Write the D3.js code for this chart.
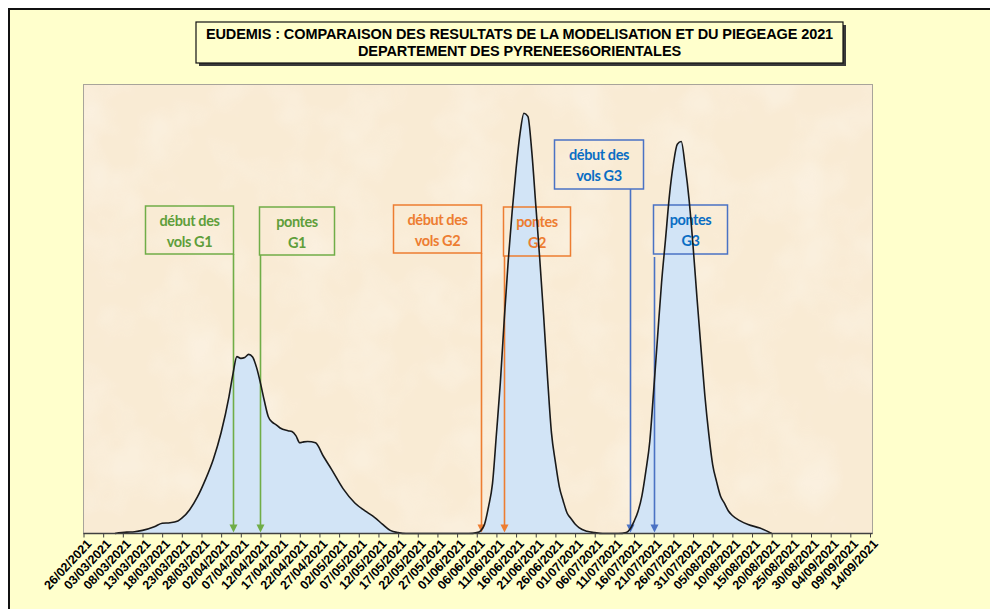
<!DOCTYPE html>
<html>
<head>
<meta charset="utf-8">
<script src="https://cdn.jsdelivr.net/npm/d3@7"></script>
<style>
  html, body { margin: 0; padding: 0; background: #ffffff; }
  svg { display: block; }
</style>
</head>
<body>
<svg id="chart" width="990" height="609"></svg>
<script>
// Title lines
const titleLines = [
  "EUDEMIS : COMPARAISON DES RESULTATS DE LA MODELISATION ET DU PIEGEAGE 2021",
  "DEPARTEMENT DES PYRENEES6ORIENTALES"
];

// Axis tick labels (every 5 days)
const tickLabels = [
  "26/02/2021","03/03/2021","08/03/2021","13/03/2021","18/03/2021","23/03/2021",
  "28/03/2021","02/04/2021","07/04/2021","12/04/2021","17/04/2021","22/04/2021",
  "27/04/2021","02/05/2021","07/05/2021","12/05/2021","17/05/2021","22/05/2021",
  "27/05/2021","01/06/2021","06/06/2021","11/06/2021","16/06/2021","21/06/2021",
  "26/06/2021","01/07/2021","06/07/2021","11/07/2021","16/07/2021","21/07/2021",
  "26/07/2021","31/07/2021","05/08/2021","10/08/2021","15/08/2021","20/08/2021",
  "25/08/2021","30/08/2021","04/09/2021","09/09/2021","14/09/2021"
];

// Modelled flight curve: dates and relative intensity
const flightDates = [
  "2021-03-06","2021-03-09","2021-03-11","2021-03-13","2021-03-16","2021-03-18",
  "2021-03-20","2021-03-22","2021-03-23","2021-03-25","2021-03-27","2021-03-29",
  "2021-03-31","2021-04-02","2021-04-04","2021-04-05","2021-04-06","2021-04-07",
  "2021-04-08","2021-04-09","2021-04-10","2021-04-11","2021-04-12","2021-04-13",
  "2021-04-14","2021-04-15","2021-04-16","2021-04-17","2021-04-19","2021-04-20",
  "2021-04-21","2021-04-22","2021-04-23","2021-04-24","2021-04-26","2021-04-28",
  "2021-04-30","2021-05-03","2021-05-06","2021-05-09","2021-05-11","2021-05-13",
  "2021-05-15","2021-05-17","2021-05-19",
  "2021-06-04","2021-06-06","2021-06-07","2021-06-08","2021-06-09","2021-06-10",
  "2021-06-11","2021-06-12","2021-06-13","2021-06-14","2021-06-15","2021-06-16",
  "2021-06-17","2021-06-18","2021-06-19","2021-06-20","2021-06-21","2021-06-22",
  "2021-06-23","2021-06-24","2021-06-25","2021-06-26","2021-06-27","2021-06-28",
  "2021-06-29","2021-06-30","2021-07-01","2021-07-02","2021-07-04","2021-07-06",
  "2021-07-08",
  "2021-07-12","2021-07-14","2021-07-15","2021-07-16","2021-07-17","2021-07-18",
  "2021-07-19","2021-07-20","2021-07-21","2021-07-22","2021-07-23","2021-07-24",
  "2021-07-25","2021-07-26","2021-07-27","2021-07-28","2021-07-29","2021-07-30",
  "2021-07-31","2021-08-01","2021-08-02","2021-08-03","2021-08-04","2021-08-05",
  "2021-08-06","2021-08-07","2021-08-08","2021-08-09","2021-08-10","2021-08-12",
  "2021-08-14","2021-08-17","2021-08-20"
];
const flightValues = [
  0, 0.3, 0.4, 0.7, 1.5, 2.3,
  2.4, 2.8, 3.4, 5.3, 8.2, 12.0,
  16.5, 22.5, 30.5, 35.5, 39.4, 39.0,
  39.2, 39.9, 39.3, 37.0, 33.5, 29.5,
  26.0, 24.8, 24.2, 23.5, 22.9, 22.7,
  21.8, 20.2, 20.4, 20.5, 20.2, 17.2,
  14.4, 10.0, 6.8, 4.8, 3.6, 2.1,
  0.7, 0.2, 0,
  0, 0.2, 0.6, 2.1, 6.0, 11.1,
  22.1, 33.6, 47.8, 60.7, 71.7, 81.2,
  89.0, 93.6, 92.9, 85.0, 73.3, 61.4,
  48.6, 34.7, 22.4, 15.9, 10.4, 7.2,
  4.5, 3.3, 2.1, 1.3, 0.5, 0.2,
  0,
  0, 0.2, 1.0, 2.7, 4.9, 8.4,
  13.9, 20.5, 32.0, 44.0, 55.9, 65.5,
  75.3, 82.3, 86.7, 87.3, 81.8, 74.3,
  64.1, 52.5, 41.5, 30.8, 22.2, 15.3,
  11.5, 8.3, 6.7, 5.0, 4.0, 2.8,
  2.0, 1.2, 0
];

// Annotated events (flight starts and egg laying per generation)
const eventLabels = [
  ["début des", "vols G1"], ["pontes", "G1"],
  ["début des", "vols G2"], ["pontes", "G2"],
  ["début des", "vols G3"], ["pontes", "G3"]
];
const eventDates = ["2021-04-05", "2021-04-12", "2021-06-07", "2021-06-13", "2021-07-15", "2021-07-21"];
const eventGeneration = ["G1", "G1", "G2", "G2", "G3", "G3"];

const parse = d3.timeParse("%Y-%m-%d");
const parseLabel = d3.timeParse("%d/%m/%Y");
const series = flightDates.map((d, i) => ({ date: parse(d), value: flightValues[i] }));

const svg = d3.select("#chart");
const W = 990, H = 609;

// Paper-like grain used on the plot background
const defs = svg.append("defs");
const grain = defs.append("filter").attr("id", "grain")
  .attr("x", 0).attr("y", 0).attr("width", "100%").attr("height", "100%");
grain.append("feTurbulence").attr("type", "fractalNoise")
  .attr("baseFrequency", 0.018).attr("numOctaves", 3).attr("seed", 4).attr("result", "noise");
grain.append("feColorMatrix").attr("in", "noise").attr("type", "matrix")
  .attr("values", "0 0 0 0 1  0 0 0 0 1  0 0 0 0 1  0 0 0 -1.6 0.95");

// Outer panel
svg.append("rect").attr("x", 9).attr("y", 9).attr("width", W).attr("height", H)
  .attr("fill", "#ffffcc").attr("stroke", "#111").attr("stroke-width", 2);

// Plot area
const plot = { left: 83.5, right: 872.5, top: 84.5, bottom: 533.5 };
const x = d3.scaleTime()
  .domain([parseLabel(tickLabels[0]), parseLabel(tickLabels[tickLabels.length - 1])])
  .range([plot.left, 870]);
const y = d3.scaleLinear().domain([0, 100]).range([plot.bottom, plot.top]);

svg.append("rect")
  .attr("x", plot.left).attr("y", plot.top)
  .attr("width", plot.right - plot.left).attr("height", plot.bottom - plot.top)
  .attr("fill", "#f9ebd4");
svg.append("rect")
  .attr("x", plot.left).attr("y", plot.top)
  .attr("width", plot.right - plot.left).attr("height", plot.bottom - plot.top)
  .attr("filter", "url(#grain)").attr("opacity", 0.35);

// Area under the flight curve
const area = d3.area().x(d => x(d.date)).y0(y(0)).y1(d => y(d.value)).curve(d3.curveMonotoneX);
const line = d3.line().x(d => x(d.date)).y(d => y(d.value)).curve(d3.curveMonotoneX);

svg.append("path").datum(series).attr("d", area).attr("fill", "#d2e4f6");

svg.append("rect")
  .attr("x", plot.left).attr("y", plot.top)
  .attr("width", plot.right - plot.left).attr("height", plot.bottom - plot.top)
  .attr("fill", "none").attr("stroke", "#a8a49a").attr("stroke-width", 1);

// Event annotations
const genStroke = { G1: "#70ad47", G2: "#ed7d31", G3: "#4a72c4" };
const genText = { G1: "#5f9e3a", G2: "#ed7d31", G3: "#0a6ec4" };
// box geometry relative to the arrow: [dx of box left, width, top, height, arrow start]
const boxLayout = [
  [-88, 88, 206, 48, 254],
  [-1, 75, 207, 48, 255],
  [-88, 88, 205, 48, 253],
  [-1, 67, 207, 49, 256],
  [-76, 89, 140, 49, 189],
  [-1, 74, 205, 49, 257]
];

const ann = svg.append("g");
eventDates.forEach((ds, i) => {
  const ax = Math.round(x(parse(ds))) + 0.5;
  const [dx, bw, by, bh, ay] = boxLayout[i];
  const g = eventGeneration[i];
  const col = genStroke[g];
  ann.append("rect")
    .attr("x", ax + dx).attr("y", by).attr("width", bw).attr("height", bh)
    .attr("fill", "none").attr("stroke", col).attr("stroke-width", 1.5);
  eventLabels[i].forEach((t, k) => {
    ann.append("text")
      .attr("x", ax + dx + bw / 2).attr("y", by + 20 + k * 21)
      .attr("text-anchor", "middle")
      .attr("font-family", "Lato, 'Open Sans', sans-serif")
      .attr("font-weight", 700).attr("font-size", 14.5)
      .attr("letter-spacing", -0.4)
      .attr("fill", genText[g]).text(t);
  });
  const tipY = plot.bottom - 1;
  ann.append("line")
    .attr("x1", ax).attr("x2", ax).attr("y1", ay).attr("y2", tipY - 6)
    .attr("stroke", col).attr("stroke-width", 1.6);
  ann.append("path")
    .attr("d", `M${ax - 4},${tipY - 8} L${ax + 4},${tipY - 8} L${ax},${tipY} Z`)
    .attr("fill", col);
});

// Curve outline on top
svg.append("path").datum(series).attr("d", line)
  .attr("fill", "none").attr("stroke", "#1a1a1a").attr("stroke-width", 1.6)
  .attr("stroke-linejoin", "round");

// X axis
const tickValues = tickLabels.map(parseLabel);
const axis = d3.axisBottom(x).tickValues(tickValues).tickSize(4).tickSizeOuter(0)
  .tickFormat(d3.timeFormat("%d/%m/%Y"));
const gx = svg.append("g").attr("transform", `translate(0,${plot.bottom})`).call(axis);
gx.select(".domain").attr("stroke", "#404040").attr("stroke-width", 1.5)
  .attr("d", `M${plot.left},0H${plot.right}`);
gx.selectAll(".tick line").attr("stroke", "#404040").attr("stroke-width", 1);
gx.selectAll(".tick text")
  .attr("font-family", "'Liberation Sans', Arial, sans-serif")
  .attr("font-weight", 700).attr("font-size", 12.5).attr("fill", "#000")
  .attr("text-anchor", "end")
  .attr("transform", "translate(5,8) rotate(-47)")
  .attr("x", 0).attr("y", 0).attr("dy", "0.35em");

// Title box with shadow
const tb = { x: 196, y: 22, w: 647, h: 41 };
svg.append("rect").attr("x", tb.x + 3).attr("y", tb.y + 3).attr("width", tb.w).attr("height", tb.h)
  .attr("fill", "#3a3a3a");
svg.append("rect").attr("x", tb.x).attr("y", tb.y).attr("width", tb.w).attr("height", tb.h)
  .attr("fill", "#ffffcc").attr("stroke", "#111").attr("stroke-width", 1.2);
titleLines.forEach((t, i) => {
  svg.append("text")
    .attr("x", tb.x + tb.w / 2).attr("y", tb.y + 17 + i * 17)
    .attr("text-anchor", "middle")
    .attr("font-family", "'Liberation Sans', Arial, sans-serif")
    .attr("font-weight", 700).attr("font-size", 14.5).attr("fill", "#000")
    .attr("letter-spacing", -0.1)
    .text(t);
});
</script>
</body>
</html>
